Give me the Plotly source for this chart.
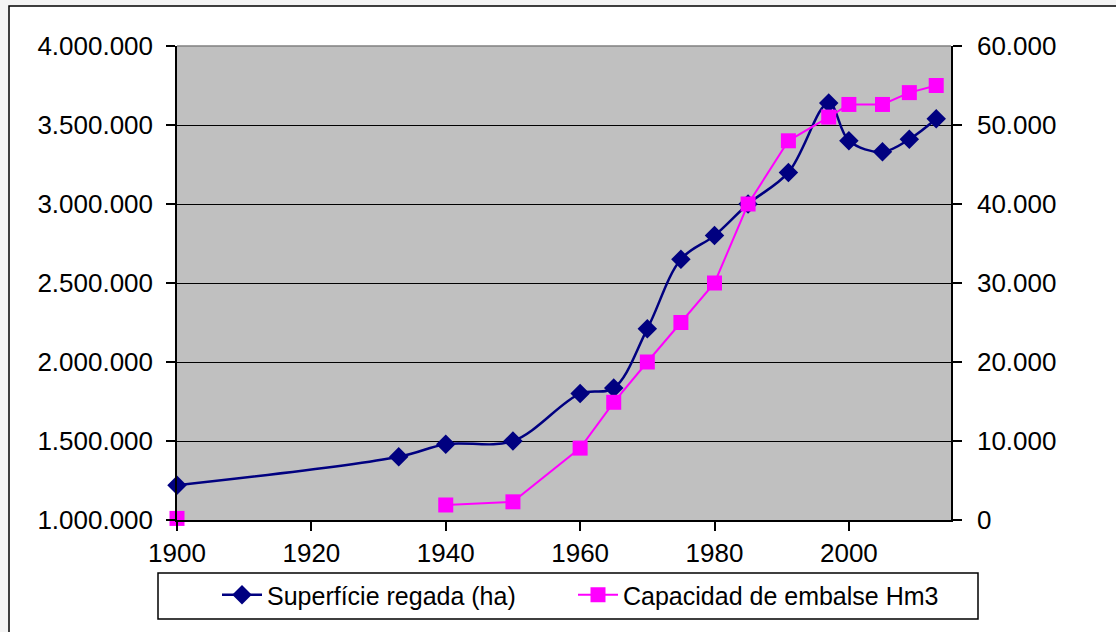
import plotly.graph_objects as go

# Data
years_sup = [1900, 1933, 1940, 1950, 1960, 1965, 1970, 1975, 1980, 1985, 1991, 1997, 2000, 2005, 2009, 2013]
superficie = [1220000, 1400000, 1480000, 1500000, 1800000, 1835000, 2210000, 2650000, 2800000, 3000000,
              3200000, 3640000, 3400000, 3330000, 3410000, 3540000]

years_cap = [1900, 1933, 1940, 1950, 1960, 1965, 1970, 1975, 1980, 1985, 1991, 1997, 2000, 2005, 2009, 2013]
capacidad = [200, None, 1900, 2300, 9100, 14900, 20000, 25000, 30000, 40000, 48000, 51000, 52600, 52600, 54100, 55000]

x_ticks = [1900, 1920, 1940, 1960, 1980, 2000]
left_ticks = [1000000, 1500000, 2000000, 2500000, 3000000, 3500000, 4000000]
right_ticks = [0, 10000, 20000, 30000, 40000, 50000, 60000]

FONT = "Liberation Sans, Arial, sans-serif"

# plot area in pixels
L, R, T, B = 177, 951, 46, 520
W, H = 1116, 632

def px_x(p):
    return (p - L) / (R - L)

def px_y(p):
    return (B - p) / (B - T)

fig = go.Figure()
fig.add_trace(go.Scatter(
    x=years_sup, y=superficie, name="Superfície regada (ha)",
    mode="lines+markers", line=dict(color="#000080", width=2.5, shape="spline", smoothing=1.0),
    marker=dict(symbol="diamond", size=15, color="#000080"),
    cliponaxis=False, legend="legend",
    yaxis="y",
))
fig.add_trace(go.Scatter(
    x=years_cap, y=capacidad, name="Capacidad de embalse Hm3",
    mode="lines+markers", line=dict(color="#FF00FF", width=2),
    marker=dict(symbol="square", size=15, color="#FF00FF"),
    connectgaps=False, cliponaxis=False, legend="legend2",
    yaxis="y2",
))

GRAY = "#f4f4f4"
shapes = [
    # outside strips (light gray)
    dict(type="rect", xref="paper", yref="paper", layer="below",
         x0=px_x(-5), x1=px_x(9), y0=px_y(H + 10), y1=px_y(-5),
         line=dict(width=0), fillcolor=GRAY),
    dict(type="rect", xref="paper", yref="paper", layer="below",
         x0=px_x(-5), x1=px_x(W + 10), y0=px_y(6), y1=px_y(-5),
         line=dict(width=0), fillcolor=GRAY),
    # outer chart border
    dict(type="rect", xref="paper", yref="paper", layer="below",
         x0=px_x(9), x1=px_x(W + 10), y0=px_y(H + 10), y1=px_y(6),
         line=dict(color="black", width=1.5)),
    # top border of plot area
    dict(type="line", xref="paper", yref="paper", layer="above",
         x0=0, x1=1, y0=1, y1=1, line=dict(color="#808080", width=1.5)),
    # legend box
    dict(type="rect", xref="paper", yref="paper", layer="below",
         x0=px_x(158), x1=px_x(978), y0=px_y(619), y1=px_y(573),
         line=dict(color="black", width=1.5), fillcolor="white"),
]

legend_common = dict(orientation="h", xref="paper", yref="paper",
                     xanchor="left", yanchor="top",
                     bgcolor="rgba(0,0,0,0)", borderwidth=0,
                     font=dict(family=FONT, size=25, color="black"),
                     itemwidth=40)

fig.update_layout(
    width=W, height=H,
    margin=dict(l=L, r=W - R, t=T, b=H - B, autoexpand=False),
    paper_bgcolor="white",
    plot_bgcolor="#C0C0C0",
    separators=",.",
    font=dict(family=FONT, size=26, color="black"),
    showlegend=True,
    legend=dict(x=px_x(217), y=px_y(572), **legend_common),
    legend2=dict(x=px_x(573), y=px_y(572), **legend_common),
    shapes=shapes,
    xaxis=dict(range=[1900, 2015.2], tickvals=x_ticks, ticktext=[str(v) for v in x_ticks],
               showgrid=False, zeroline=False, showline=True, linecolor="black", linewidth=1.5,
               ticks="outside", ticklen=9, tickcolor="black", tickwidth=1.5, automargin=False,
               tickfont=dict(family=FONT, size=26, color="black")),
    yaxis=dict(range=[1000000, 4000000], tickvals=left_ticks, tickformat=",d",
               showgrid=True, gridcolor="black", gridwidth=1.2, zeroline=False,
               showline=True, linecolor="black", linewidth=1.5, automargin=False,
               ticks="outside", ticklen=9, tickcolor="black", tickwidth=1.5,
               ticklabelstandoff=8,
               tickfont=dict(family=FONT, size=26, color="black")),
    yaxis2=dict(range=[0, 60000], tickvals=right_ticks, tickformat=",d", overlaying="y", side="right",
                showgrid=False, zeroline=False, showline=True, linecolor="black", linewidth=1.5,
                ticks="outside", ticklen=9, tickcolor="black", tickwidth=1.5, automargin=False,
                ticklabelstandoff=10,
                tickfont=dict(family=FONT, size=26, color="black")),
)

fig.write_html("out.html", config={"displayModeBar": False})

# remove default body margin so the figure sits at the window origin
with open("out.html", "r", encoding="utf-8") as f:
    html = f.read()
html = html.replace("<head>", "<head><style>html,body{margin:0;padding:0;overflow:hidden;}</style>", 1)
with open("out.html", "w", encoding="utf-8") as f:
    f.write(html)
